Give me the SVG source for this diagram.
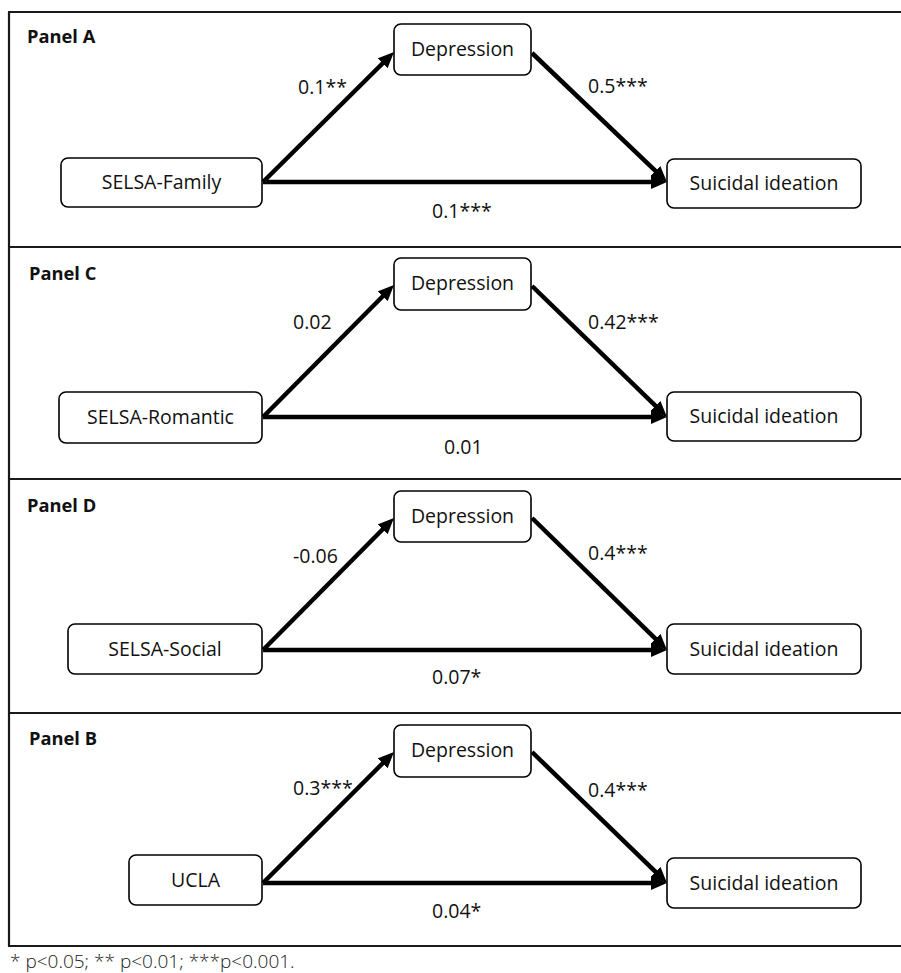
<svg xmlns="http://www.w3.org/2000/svg" width="901" height="973" viewBox="0 0 901 973">
<style>
.frame{stroke:#1a1a1a;stroke-width:2.2;fill:none}
.box{fill:#fff;stroke:#000;stroke-width:1.6}
.t{font-family:"Open Sans","Noto Sans",sans-serif;font-size:19.5px;fill:#111}
.c{text-anchor:middle}
.p{font-family:"Open Sans","Noto Sans",sans-serif;font-size:18.3px;font-weight:bold;fill:#111}
.fn{font-family:"Open Sans","Noto Sans",sans-serif;font-size:19px;font-weight:300;fill:#222}
.a{stroke:#000;stroke-width:4.5;fill:none;marker-end:url(#ah)}
</style>
<defs>
<marker id="ah" markerUnits="userSpaceOnUse" viewBox="0 0 16 14" markerWidth="16" markerHeight="14" refX="4" refY="7" orient="auto">
<path d="M0,0 L16,7 L0,14 z" fill="#000"/>
</marker>
</defs>
<rect width="901" height="973" fill="#fff"/>
<g id="frame">
<line class="frame" x1="9" y1="12" x2="9" y2="946"/>
<line class="frame" x1="8" y1="12" x2="901" y2="12"/>
<line class="frame" x1="8" y1="247" x2="901" y2="247"/>
<line class="frame" x1="8" y1="479" x2="901" y2="479"/>
<line class="frame" x1="8" y1="713" x2="901" y2="713"/>
<line class="frame" x1="8" y1="946" x2="901" y2="946"/>
</g>
<g id="connectors">
<line class="a" x1="263" y1="182" x2="385.5" y2="60.5"/>
<line class="a" x1="532" y1="53" x2="658.3" y2="173.7"/>
<line class="a" x1="263" y1="182" x2="655" y2="182"/>
<line class="a" x1="263" y1="417" x2="385.5" y2="293.5"/>
<line class="a" x1="532" y1="286" x2="658.4" y2="408.6"/>
<line class="a" x1="263" y1="417" x2="655" y2="417"/>
<line class="a" x1="263" y1="650" x2="385.5" y2="526.5"/>
<line class="a" x1="532" y1="518" x2="658.4" y2="641.6"/>
<line class="a" x1="263" y1="650" x2="655" y2="650"/>
<line class="a" x1="263" y1="883" x2="385.5" y2="760.5"/>
<line class="a" x1="532" y1="752" x2="658.4" y2="874.6"/>
<line class="a" x1="263" y1="883" x2="655" y2="883"/>
</g>
<g id="panelA">
<text class="p" x="27" y="43">Panel A</text>
<g id="A-dep"><rect class="box" x="394" y="24" width="137" height="51" rx="7"/><text class="t c" x="462.5" y="56">Depression</text></g>
<g id="A-selsa"><rect class="box" x="61" y="158" width="201" height="49" rx="7"/><text class="t c" x="161.5" y="189">SELSA-Family</text></g>
<g id="A-si"><rect class="box" x="667" y="159" width="194" height="49" rx="7"/><text class="t c" x="764" y="190">Suicidal ideation</text></g>
<text class="t" x="298" y="94">0.1**</text>
<text class="t" x="588" y="93">0.5***</text>
<text class="t" x="432" y="218">0.1***</text>
</g>
<g id="panelC">
<text class="p" x="29" y="280">Panel C</text>
<g id="C-dep"><rect class="box" x="394" y="258" width="137" height="52" rx="7"/><text class="t c" x="462.5" y="290">Depression</text></g>
<g id="C-selsa"><rect class="box" x="59" y="392" width="203" height="51" rx="7"/><text class="t c" x="160.5" y="424">SELSA-Romantic</text></g>
<g id="C-si"><rect class="box" x="667" y="392" width="194" height="49" rx="7"/><text class="t c" x="764" y="423">Suicidal ideation</text></g>
<text class="t" x="293" y="329">0.02</text>
<text class="t" x="588" y="329">0.42***</text>
<text class="t" x="444" y="454">0.01</text>
</g>
<g id="panelD">
<text class="p" x="27" y="512">Panel D</text>
<g id="D-dep"><rect class="box" x="394" y="491" width="137" height="51" rx="7"/><text class="t c" x="462.5" y="523">Depression</text></g>
<g id="D-selsa"><rect class="box" x="68" y="624" width="194" height="50" rx="7"/><text class="t c" x="165" y="656">SELSA-Social</text></g>
<g id="D-si"><rect class="box" x="667" y="624" width="194" height="50" rx="7"/><text class="t c" x="764" y="656">Suicidal ideation</text></g>
<text class="t" x="293" y="563">-0.06</text>
<text class="t" x="588" y="560">0.4***</text>
<text class="t" x="432" y="684">0.07*</text>
</g>
<g id="panelB">
<text class="p" x="29" y="745">Panel B</text>
<g id="B-dep"><rect class="box" x="394" y="725" width="137" height="52" rx="7"/><text class="t c" x="462.5" y="757">Depression</text></g>
<g id="B-ucla"><rect class="box" x="129" y="855" width="133" height="50" rx="7"/><text class="t c" x="195.5" y="887">UCLA</text></g>
<g id="B-si"><rect class="box" x="667" y="858" width="194" height="50" rx="7"/><text class="t c" x="764" y="890">Suicidal ideation</text></g>
<text class="t" x="293" y="795">0.3***</text>
<text class="t" x="588" y="797">0.4***</text>
<text class="t" x="432" y="918">0.04*</text>
</g>
<text class="fn" x="10" y="968">* p&lt;0.05; ** p&lt;0.01; ***p&lt;0.001.</text>
</svg>
